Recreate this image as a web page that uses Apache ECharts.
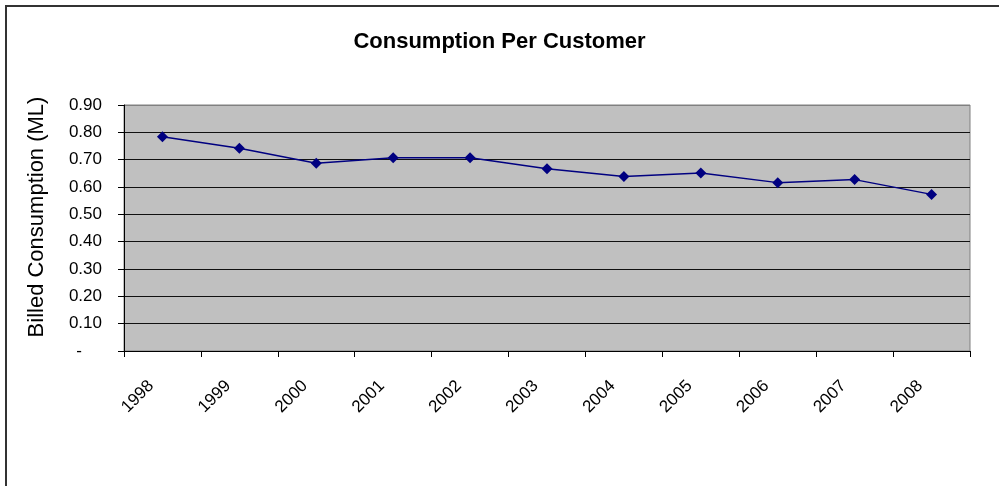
<!DOCTYPE html>
<html>
<head>
    <meta charset="utf-8">
    <title>Consumption Per Customer</title>
    <script src="https://cdn.jsdelivr.net/npm/echarts@6/dist/echarts.min.js"></script>
    <style>
        html, body { margin: 0; padding: 0; background: #fff; }
        #main { width: 999px; height: 486px; }
    </style>
</head>
<body>
    <div id="main"></div>
    <script type="text/javascript">
        // data
        var years = ['1998', '1999', '2000', '2001', '2002', '2003', '2004', '2005', '2006', '2007', '2008'];
        var consumption = [0.784, 0.742, 0.687, 0.707, 0.707, 0.667, 0.638, 0.651, 0.616, 0.627, 0.573];
        var yTicks = [0, 0.1, 0.2, 0.3, 0.4, 0.5, 0.6, 0.7, 0.8, 0.9];

        var font = "'Liberation Sans', Arial, sans-serif";
        var myChart = echarts.init(document.getElementById('main'));

        var option = {
            animation: false,
            backgroundColor: '#fff',
            title: {
                text: 'Consumption Per Customer',
                left: 'center',
                top: 26,
                textStyle: { fontFamily: font, fontSize: 22, fontWeight: 'bold', color: '#000' }
            },
            // outer chart border (only left/top edges fall inside the picture)
            graphic: [{
                type: 'rect',
                shape: { x: 6, y: 6, width: 1100, height: 600 },
                style: { fill: 'none', stroke: '#333', lineWidth: 2 },
                silent: true
            }],
            grid: {
                left: 124, right: 29, top: 105, bottom: 135,
                show: true,
                backgroundColor: '#C0C0C0',
                borderColor: '#808080',
                borderWidth: 1
            },
            xAxis: {
                type: 'category',
                data: years,
                boundaryGap: true,
                axisLine: { lineStyle: { color: '#000', width: 1 } },
                axisTick: { show: true, length: 6, inside: false, lineStyle: { color: '#000' } },
                axisLabel: {
                    rotate: 45,
                    margin: 21,
                    padding: [0, 16, 0, 0],
                    fontFamily: font,
                    fontSize: 17,
                    color: '#000'
                },
                splitLine: { show: false }
            },
            yAxis: {
                type: 'value',
                min: yTicks[0],
                max: yTicks[yTicks.length - 1],
                interval: 0.1,
                name: 'Billed Consumption (ML)',
                nameLocation: 'middle',
                nameGap: 76,
                nameTextStyle: { fontFamily: font, fontSize: 22, color: '#000', padding: [0, 0, 0, 22] },
                axisLine: { show: true, lineStyle: { color: '#000', width: 1 } },
                axisTick: { show: true, length: 6, lineStyle: { color: '#000' } },
                axisLabel: {
                    margin: 22,
                    fontFamily: font,
                    fontSize: 17,
                    color: '#000',
                    formatter: function (v) {
                        if (Math.abs(v) < 1e-9) return '{d|-}';
                        return v.toFixed(2);
                    },
                    rich: {
                        d: { fontFamily: font, fontSize: 17, color: '#000', padding: [0, 20, 0, 0] }
                    }
                },
                splitLine: {
                    show: true,
                    lineStyle: { color: ['#000', '#111', '#111', '#111', '#111', '#111', '#111', '#111', '#111', '#808080'], width: 1 }
                }
            },
            series: [{
                name: 'Consumption',
                type: 'line',
                data: consumption,
                symbol: 'diamond',
                symbolSize: 11,
                itemStyle: { color: '#000080' },
                lineStyle: { color: '#000080', width: 1.5 }
            }]
        };

        myChart.setOption(option);
    </script>
</body>
</html>
